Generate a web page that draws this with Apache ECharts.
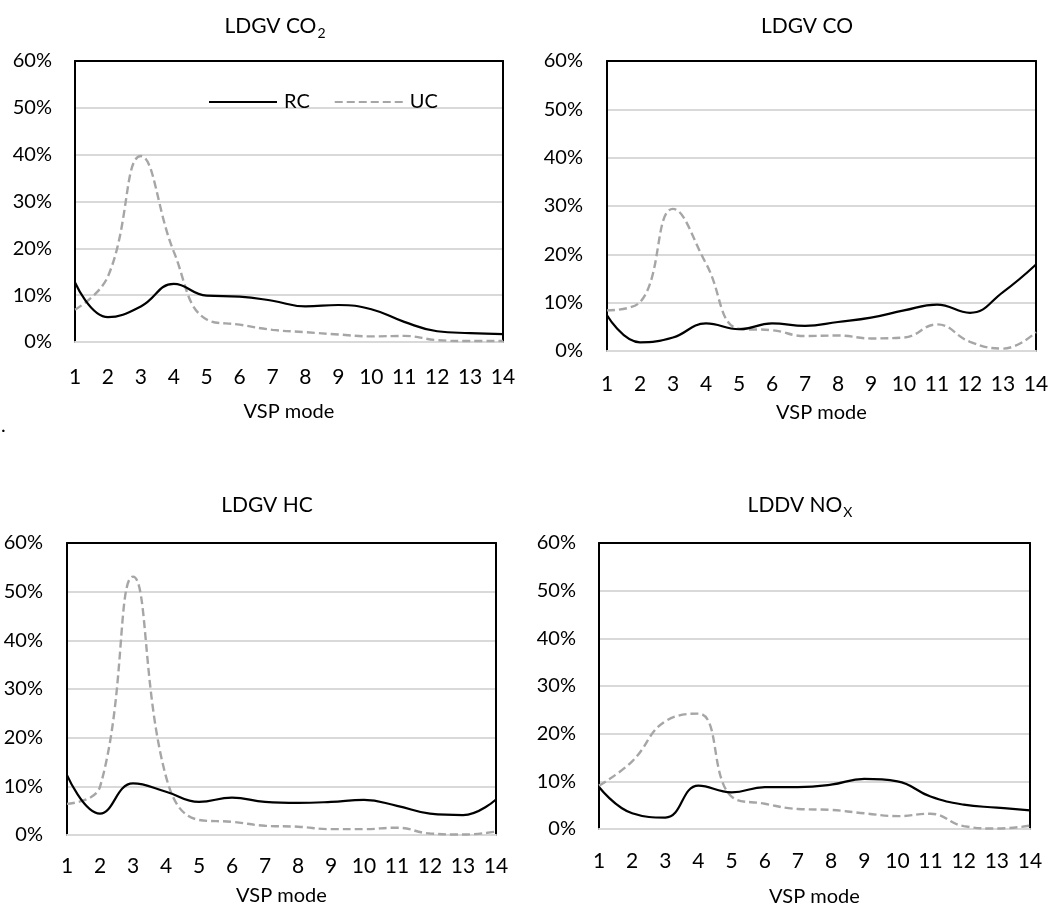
<!DOCTYPE html>
<html>
<head>
<meta charset="utf-8">
<script src="https://cdn.jsdelivr.net/npm/echarts@6/dist/echarts.min.js"></script>
<style>
html,body{margin:0;padding:0;background:#fff;}
#c{width:1056px;height:911px;}
</style>
</head>
<body>
<div id="c"></div>
<script>
const modes = ['1','2','3','4','5','6','7','8','9','10','11','12','13','14'];
const yTicks = [0, 10, 20, 30, 40, 50, 60];
const seriesNames = ['RC', 'UC'];

const co2RC = [12.7, 5.3, 7.6, 12.4, 9.9, 9.7, 8.8, 7.6, 7.9, 7.0, 4.3, 2.3, 1.9, 1.7];
const co2UC = [6.9, 14.0, 39.7, 19.3, 4.8, 3.7, 2.6, 2.1, 1.6, 1.2, 1.3, 0.4, 0.2, 0.2];
const coRC  = [7.4, 1.8, 2.8, 5.7, 4.5, 5.7, 5.2, 6.0, 6.9, 8.4, 9.6, 7.9, 12.2, 17.9];
const coUC  = [8.4, 10.1, 29.4, 18.1, 4.6, 4.3, 3.1, 3.2, 2.6, 2.8, 5.5, 1.9, 0.5, 3.9];
const hcRC  = [12.3, 4.4, 10.6, 8.9, 6.8, 7.7, 6.8, 6.6, 6.8, 7.2, 6.0, 4.4, 4.1, 7.3];
const hcUC  = [6.4, 9.9, 53.1, 12.0, 3.1, 2.7, 1.9, 1.7, 1.2, 1.2, 1.5, 0.3, 0.1, 0.7];
const noxRC = [8.8, 3.3, 2.4, 9.1, 7.7, 8.8, 8.8, 9.3, 10.5, 10.0, 6.8, 5.1, 4.5, 3.9];
const noxUC = [9.1, 14.2, 22.6, 24.2, 6.8, 5.3, 4.2, 4.0, 3.3, 2.7, 3.2, 0.6, 0.1, 0.7];

const panels = [
  {title: '{a|LDGV CO}{s|2}', rc: co2RC, uc: co2UC},
  {title: '{a|LDGV CO}', rc: coRC, uc: coUC},
  {title: '{a|LDGV HC}', rc: hcRC, uc: hcUC},
  {title: '{a|LDDV NO}{s|X}', rc: noxRC, uc: noxUC}
];

const FONT = 'Lato, "Noto Sans", sans-serif';
const TXT = '#000000';
const GRID_GREY = '#d9d9d9';
const UC_GREY = '#a6a6a6';

const layout = [
  {left: 75, top: 61, width: 428, height: 281, tx: 270, ty: 8, lblMargin: 25, nameGap: 60, yMargin: 23},
  {left: 607, top: 61, width: 429, height: 290, tx: 802, ty: 8, lblMargin: 23, nameGap: 52, yMargin: 24},
  {left: 67, top: 543, width: 429, height: 292, tx: 262, ty: 487, lblMargin: 21, nameGap: 51, yMargin: 24},
  {left: 599, top: 543, width: 431, height: 286, tx: 795, ty: 487, lblMargin: 22, nameGap: 58, yMargin: 23}
];

const grids = [], xAxes = [], yAxes = [], series = [], titles = [];
panels.forEach((p, i) => {
  const L = layout[i];
  grids.push({left: L.left, top: L.top, width: L.width, height: L.height, containLabel: false});
  titles.push({
    text: p.title, left: L.tx, top: L.ty, textAlign: 'center',
    textStyle: {
      fontWeight: 'normal',
      rich: {
        a: {fontSize: 21, fontFamily: FONT, fontWeight: 'normal', color: TXT, lineHeight: 26},
        s: {fontSize: 14, fontFamily: FONT, fontWeight: 'normal', color: TXT, padding: [13, 0, 0, 1]}
      }
    }
  });
  xAxes.push({
    type: 'category', gridIndex: i, data: modes, boundaryGap: false,
    axisLine: {show: true, onZero: false, lineStyle: {color: GRID_GREY, width: 2}},
    axisTick: {show: false},
    axisLabel: {fontFamily: FONT, fontSize: 21, color: TXT, margin: L.lblMargin, interval: 0},
    name: 'VSP mode', nameLocation: 'middle', nameGap: L.nameGap,
    nameTextStyle: {fontFamily: FONT, fontSize: 20, color: TXT},
    splitLine: {show: false}
  });
  xAxes.push({
    type: 'category', gridIndex: i, data: modes, boundaryGap: false, position: 'top',
    axisLine: {show: true, onZero: false, lineStyle: {color: '#000', width: 2}},
    axisTick: {show: false}, axisLabel: {show: false}, splitLine: {show: false}
  });
  yAxes.push({
    type: 'value', gridIndex: i, min: yTicks[0], max: yTicks[yTicks.length - 1], interval: yTicks[1] - yTicks[0],
    axisLine: {show: true, onZero: false, lineStyle: {color: '#000', width: 2}},
    axisTick: {show: false},
    axisLabel: {fontFamily: FONT, fontSize: 20, color: TXT, margin: L.yMargin, formatter: '{value}%'},
    splitLine: {show: true, lineStyle: {color: GRID_GREY, width: 2}}
  });
  yAxes.push({
    type: 'value', gridIndex: i, min: yTicks[0], max: yTicks[yTicks.length - 1], interval: yTicks[1] - yTicks[0], position: 'right',
    axisLine: {show: true, onZero: false, lineStyle: {color: '#000', width: 2}},
    axisTick: {show: false}, axisLabel: {show: false}, splitLine: {show: false}
  });
  series.push({
    name: seriesNames[0], type: 'line', xAxisIndex: 2 * i, yAxisIndex: 2 * i, data: p.rc,
    smooth: 0.45, symbol: 'none', color: '#000',
    lineStyle: {color: '#000', width: 2.2}, z: 3
  });
  series.push({
    name: seriesNames[1], type: 'line', xAxisIndex: 2 * i, yAxisIndex: 2 * i, data: p.uc,
    smooth: 0.45, symbol: 'none', color: UC_GREY,
    lineStyle: {color: UC_GREY, width: 2.4, type: [8, 4]}, z: 2
  });
});

const chart = echarts.init(document.getElementById('c'), null, {renderer: 'canvas'});
chart.setOption({
  animation: false,
  backgroundColor: '#fff',
  title: titles,
  grid: grids,
  xAxis: xAxes,
  yAxis: yAxes,
  legend: {
    data: seriesNames, left: 208, top: 92, padding: 0, itemWidth: 68, itemHeight: 14, itemGap: 24,
    itemStyle: {opacity: 0},
    textStyle: {fontFamily: FONT, fontSize: 20, color: TXT, padding: [0, 0, 0, 2]}
  },
  graphic: [{type: 'text', left: 1, top: 416, style: {text: '.', fontSize: 20, fontFamily: FONT, fill: TXT}}],
  series: series
});
</script>
</body>
</html>
